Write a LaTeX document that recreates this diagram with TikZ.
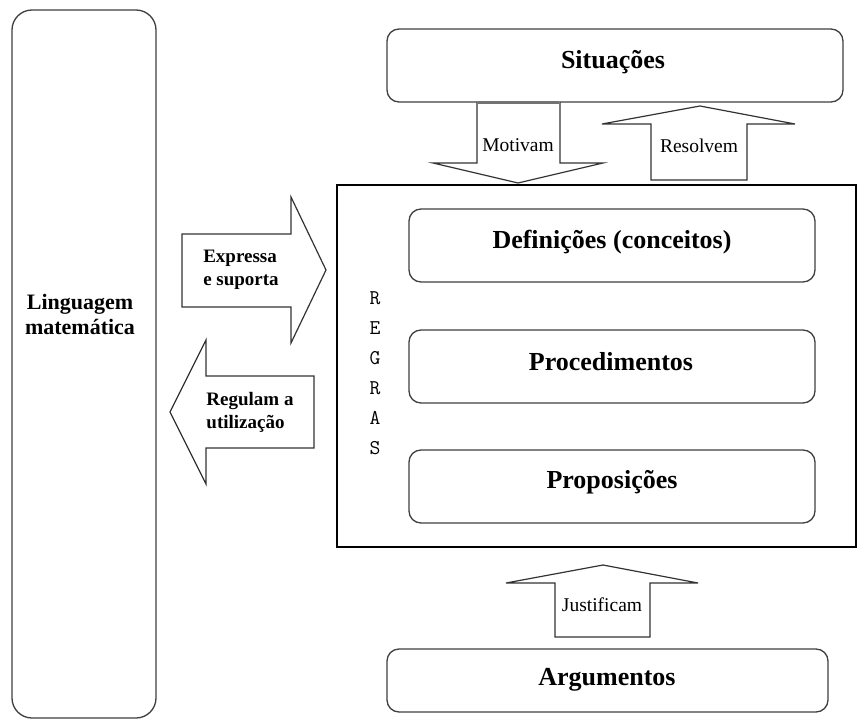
\documentclass[tikz,border=0pt]{standalone}
\usepackage{fontspec}
\setmainfont{Liberation Serif}
\begin{document}
\begin{tikzpicture}[x=1pt,y=-1pt,
  rbox/.style={draw=black!75,line width=1.3pt,rounded corners=12pt,fill=white},
  blk/.style={draw=black!80,line width=1.2pt,fill=white,line join=miter},
  big/.style={font=\fontsize{26}{28}\selectfont\bfseries},
  lbl/.style={font=\fontsize{19.5}{20}\selectfont,inner sep=0pt},
  blbl/.style={font=\fontsize{19}{23}\selectfont\bfseries,inner sep=0pt,align=left}]
\useasboundingbox (0,0) rectangle (857,722);
\fill[white] (0,0) rectangle (857,722);
% left box
\draw[rbox,rounded corners=20pt] (12,10) rectangle (156,718);
\node[font=\fontsize{22}{25}\selectfont\bfseries,align=center] (ling) at (80,314) {Linguagem\\matemática};
% Situacoes
\draw[rbox] (387,29) rectangle (843,102);
\node[big] (sit) at (613,62) {Situações};
% main rectangle
\draw[black,line width=1.2pt] (337,185) rectangle (856,547);
% Motivam arrow
\draw[blk] (477,102) -- (477,163) -- (433,163) -- (518,183) -- (603,163) -- (560,163) -- (560,102);
\draw[black!55,line width=3pt] (478,103) -- (559,103);
\node[lbl] (mot) at (518,145) {Motivam};
% Resolvem arrow
\draw[blk] (651,180) -- (651,124) -- (602,124) -- (700,106) -- (795,124) -- (747,124) -- (747,180) -- cycle;
\node[lbl] (res) at (699,146) {Resolvem};
% inner boxes
\draw[rbox] (409,209) rectangle (815,282);
\node[big] (def) at (612,242) {Definições (conceitos)};
\draw[rbox] (409,330) rectangle (815,403);
\node[big] (proc) at (611,362) {Procedimentos};
\draw[rbox] (409,450) rectangle (815,523);
\node[big] (prop) at (612,482) {Proposições};
% REGRAS
\foreach \ch/\yy in {R/298,E/328,G/358,R/388,A/418,S/448}
  \node[font=\ttfamily\fontsize{21}{22}\selectfont,inner sep=0pt] at (375,\yy) {\ch};
% Expressa arrow
\draw[blk] (182,234) -- (291,234) -- (291,197) -- (326,270) -- (291,343) -- (291,307) -- (182,307) -- cycle;
\node[blbl] (exp) at (241,270) {Expressa\\e suporta};
% Regulam arrow
\draw[blk] (314,376) -- (206,376) -- (206,340) -- (170,412) -- (206,484) -- (206,448) -- (314,448) -- cycle;
\node[blbl] (reg) at (250,412) {Regulam a\\utilização};
% Justificam arrow
\draw[blk] (555,637) -- (555,583) -- (506,583) -- (603,565) -- (698,583) -- (650,583) -- (650,637) -- cycle;
\node[lbl] (jus) at (602,605) {Justificam};
% Argumentos
\draw[rbox] (387,649) rectangle (828,712);
\node[big] (arg) at (607,680) {Argumentos};
\end{tikzpicture}
\end{document}
